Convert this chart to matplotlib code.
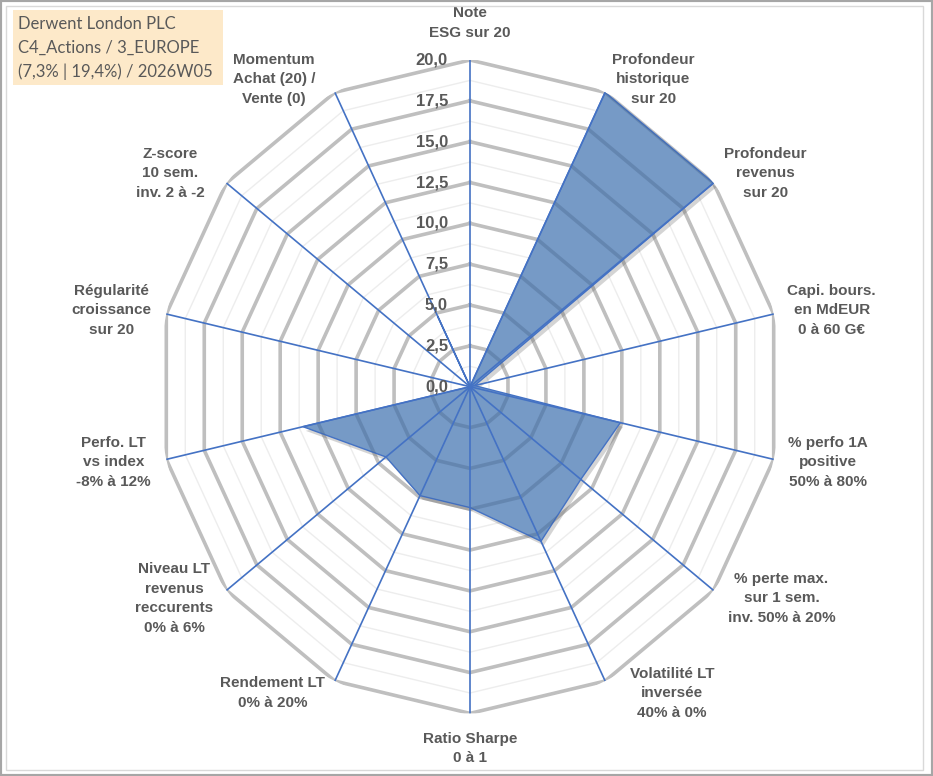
import numpy as np
import matplotlib
matplotlib.use("Agg")
import matplotlib.pyplot as plt
from matplotlib.patches import Rectangle
import matplotlib.patheffects as pe

plt.rcParams['font.family'] = ['Liberation Sans', 'DejaVu Sans']

# axes of the radar, clockwise from the top
labels = ["Note\nESG sur 20",
          "Profondeur\nhistorique\nsur 20",
          "Profondeur\nrevenus\nsur 20",
          "Capi. bours.\nen MdEUR\n0 à 60 G€",
          "% perfo 1A\npositive\n50% à 80%",
          "% perte max.\nsur 1 sem.\ninv. 50% à 20%",
          "Volatilité LT\ninversée\n40% à 0%",
          "Ratio Sharpe\n0 à 1",
          "Rendement LT\n0% à 20%",
          "Niveau LT\nrevenus\nreccurents\n0% à 6%",
          "Perfo. LT\nvs index\n-8% à 12%",
          "Régularité\ncroissance\nsur 20",
          "Z-score\n10 sem.\ninv. 2 à -2",
          "Momentum\nAchat (20) /\nVente (0)"]
values = [0, 20, 20, 0.3, 9.9, 9.1, 10.5, 7.4, 7.4, 6.9, 11.0, 0, 0, 4.8]
ticks = [0, 2.5, 5, 7.5, 10, 12.5, 15, 17.5, 20]
title_lines = ["Derwent London PLC", "C4_Actions / 3_EUROPE", "(7,3% | 19,4%) / 2026W05"]

# label offsets from the outer vertex, in pixels
label_offsets = [(0, 37), (48, 13), (52, 10), (58, 4), (54, -3), (68, -8), (67, -12),
                 (0, -35), (-62, -12), (-52, -8), (-53, -3), (-55, 4), (-56, 10), (-61, 13)]

W, H = 933, 776
fig = plt.figure(figsize=(W/100, H/100), dpi=100)
fig.patch.set_facecolor('white')

cx, cy, rx, ry = 470, 386.7, 311.5, 326.7
ax = fig.add_axes([(cx-rx)/W, (H-cy-ry)/H, 2*rx/W, 2*ry/H], projection='polar')
ax.set_aspect('auto')
ax.set_theta_offset(np.pi/2)
ax.set_theta_direction(-1)
ax.set_ylim(0, 20)
ax.set_xticks([])
ax.set_yticks([])
ax.grid(False)
ax.spines['polar'].set_visible(False)
ax.patch.set_alpha(0)

n = len(labels)
theta = np.arange(n) * 2*np.pi/n
th_c = np.append(theta, theta[0])

# data polygon (opaque, with soft shadow)
vals_c = np.append(values, values[0])
poly = ax.fill(th_c, vals_c, facecolor='#769AC6', edgecolor='#4472C4', lw=1, zorder=3)[0]
poly.set_path_effects([pe.SimplePatchShadow(offset=(2, -3), shadow_rgbFace='#555555', alpha=0.25),
                       pe.Normal()])

# grid rings: light minor, grey major; major rings also seen through the fill
for r in np.arange(1.25, 20.01, 1.25):
    if abs(r/2.5 - round(r/2.5)) < 1e-6:
        ax.plot(th_c, [r]*(n+1), color='#BFBFBF', lw=2.6, zorder=2, solid_joinstyle='miter')
        ln, = ax.plot(th_c, [r]*(n+1), color='#3D5A80', alpha=0.3, lw=2.6, zorder=3.5,
                      solid_joinstyle='miter')
        ln.set_clip_path(poly)
    else:
        ax.plot(th_c, [r]*(n+1), color='#EDEDED', lw=1, zorder=1)

# spokes
for t in theta:
    ax.plot([t, t], [0, 20], color='#4472C4', lw=1.2, zorder=4)

# radial tick labels
for v in ticks:
    ax.annotate(f"{v:.1f}".replace('.', ','), xy=(0, v), xytext=(-22, 0),
                textcoords='offset pixels', ha='right', va='center',
                fontsize=12, fontweight='bold', color='#595959', zorder=5)

# category labels
for t, lab, off in zip(theta, labels, label_offsets):
    ax.annotate(lab, xy=(t, 20), xytext=off, textcoords='offset pixels',
                ha='center', va='center', multialignment='center', linespacing=1.5,
                fontsize=11, fontweight='bold', color='#595959', annotation_clip=False)

# title box
fig.add_artist(Rectangle((13/W, 1-85/H), 210/W, 75/H, transform=fig.transFigure,
                         facecolor='#FDE9C9', edgecolor='none'))
for i, line in enumerate(title_lines):
    fig.text(18/W, 1-(24+24*i)/H, line, ha='left', va='center', fontsize=12,
             family='Lato', color='#595959')

# frame
fig.add_artist(Rectangle((0, 0), 1, 1, transform=fig.transFigure, fill=False,
                         edgecolor='#A6A6A6', lw=3))
fig.add_artist(Rectangle((6/W, 6/H), 917/W, 764/H, transform=fig.transFigure, fill=False,
                         edgecolor='#D9D9D9', lw=1))

fig.savefig('out.png', dpi=100)
